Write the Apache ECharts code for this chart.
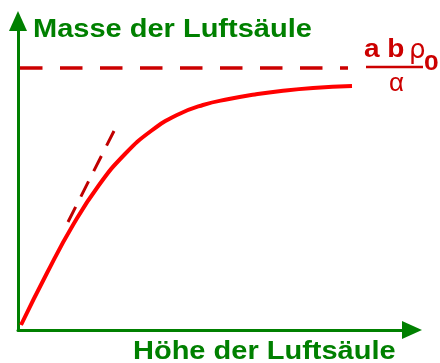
<!DOCTYPE html>
<html>
<head>
<meta charset="utf-8">
<script src="https://cdn.jsdelivr.net/npm/echarts@6/dist/echarts.min.js"></script>
<style>
html, body { margin: 0; padding: 0; background: #fff; }
#chart { width: 440px; height: 363px; }
</style>
</head>
<body>
<div id="chart"></div>
<script>
var curveX = [3, 29, 55, 81, 107, 133, 159, 185, 211, 237, 263, 295, 334];
var curveY = [5, 57, 105, 145, 176, 199, 215, 225, 231, 235.5, 239, 242, 244];

// Tangente im Ursprung (gestrichelt)
var tangentX = [50, 96];
var tangentY = [108, 199];

// Grenzwert a b rho0 / alpha
var limitX = [2, 330];
var limitValue = 262;

var yTitle = 'Masse der Luftsäule';
var xTitle = 'Höhe der Luftsäule';

var green = '#008000';
var darkRed = '#cc0000';

function pairs(xs, ys) {
	var out = [];
	for (var i = 0; i < xs.length; i++) {
		out.push([xs[i], ys[i]]);
	}
	return out;
}

var axisCommon = {
	type: 'value',
	min: 0,
	axisTick: { show: false },
	axisLabel: { show: false },
	splitLine: { show: false },
	axisLine: {
		show: true,
		onZero: false,
		symbol: ['none', 'triangle'],
		symbolSize: [18, 20],
		lineStyle: { color: green, width: 3 }
	}
};

var myChart = echarts.init(document.getElementById('chart'));
var option = {
	animation: false,
	grid: { left: 18, top: 21, right: 28, bottom: 33 },
	xAxis: Object.assign({}, axisCommon, { max: 394 }),
	yAxis: Object.assign({}, axisCommon, { max: 309 }),
	series: [{
		type: 'line',
		data: [[limitX[0], limitValue], [limitX[1], limitValue]],
		showSymbol: false,
		lineStyle: { color: darkRed, width: 3.5, type: [22.5, 17.5] }
	}, {
		type: 'line',
		data: pairs(tangentX, tangentY),
		showSymbol: false,
		lineStyle: { color: '#c00000', width: 3, type: [17, 11.5] }
	}, {
		type: 'line',
		data: pairs(curveX, curveY),
		smooth: 0.5,
		showSymbol: false,
		lineStyle: { color: '#ff0000', width: 4 }
	}],
	graphic: [{
		type: 'text', x: 33, y: 30, scaleX: 1.16,
		style: { text: yTitle, font: 'bold 25px "Liberation Sans"', fill: green, verticalAlign: 'middle' }
	}, {
		type: 'text', x: 133, y: 352, scaleX: 1.16,
		style: { text: xTitle, font: 'bold 25px "Liberation Sans"', fill: green, verticalAlign: 'middle' }
	}, {
		type: 'text', x: 364, y: 50, scaleX: 1.12,
		style: { text: 'a b', font: 'bold 25px "Liberation Sans"', fill: darkRed, verticalAlign: 'middle' }
	}, {
		type: 'text', x: 409, y: 51,
		style: { text: 'ρ', font: '26px "DejaVu Sans"', fill: darkRed, verticalAlign: 'middle' }
	}, {
		type: 'text', x: 424, y: 64, scaleX: 1.2,
		style: { text: '0', font: 'bold 22px "Liberation Sans"', fill: darkRed, verticalAlign: 'middle' }
	}, {
		type: 'line',
		shape: { x1: 366, y1: 67, x2: 423, y2: 67 },
		style: { stroke: darkRed, lineWidth: 2.5 }
	}, {
		type: 'text', x: 389, y: 84,
		style: { text: 'α', font: '26px "Liberation Sans"', fill: darkRed, verticalAlign: 'middle' }
	}]
};
myChart.setOption(option);
</script>
</body>
</html>
